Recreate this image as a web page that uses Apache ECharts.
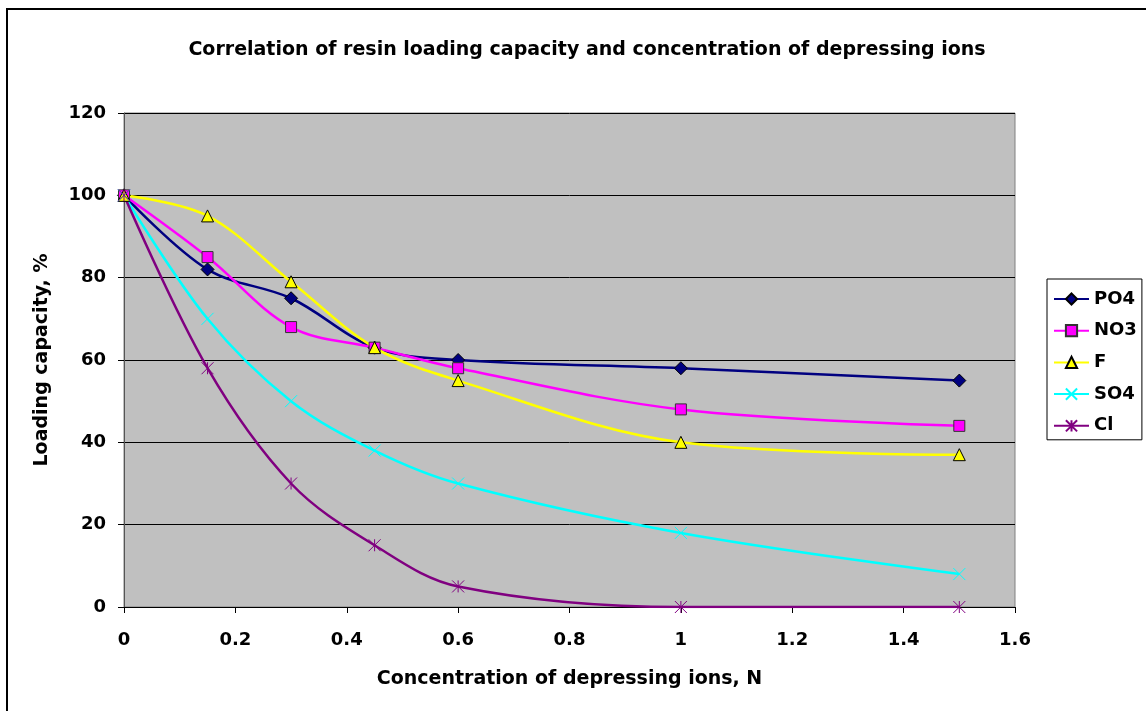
<!DOCTYPE html>
<html lang="en">
<head>
  <meta charset="UTF-8">
  <title>Resin loading capacity</title>
  <script src="https://cdn.jsdelivr.net/npm/echarts@6/dist/echarts.min.js"></script>
  <style>
    body { margin: 0; background: white; }
    #chart { width: 1146px; height: 711px; }
  </style>
</head>
<body>
<div id="chart"></div>
<script>
  // concentration of depressing ions, N
  const conc = [0, 0.15, 0.3, 0.45, 0.6, 1, 1.5];
  // loading capacity, %
  const po4 = [100, 82, 75, 63, 60, 58, 55];
  const no3 = [100, 85, 68, 63, 58, 48, 44];
  const fl  = [100, 95, 79, 63, 55, 40, 37];
  const so4 = [100, 70, 50, 38, 30, 18, 8];
  const cl  = [100, 58, 30, 15, 5, 0, 0];

  const FONT = "DejaVu Sans, sans-serif";
  const pair = ys => conc.map((x, i) => [x, ys[i]]);
  const bold = size => ({ fontFamily: FONT, fontSize: size, fontWeight: "bold", color: "#000" });

  function makeSeries(name, ys, color, symbol, size, fill, border) {
    return {
      name: name,
      type: "line",
      data: pair(ys),
      smooth: 0.35,
      symbol: symbol,
      symbolSize: size,
      lineStyle: { color: color, width: 2.5 },
      itemStyle: { color: fill, borderColor: border, borderWidth: 1 },
      emphasis: { disabled: true }
    };
  }

  const chart = echarts.init(document.getElementById("chart"));
  chart.setOption({
    animation: false,
    backgroundColor: "#fff",
    textStyle: { fontFamily: FONT },
    graphic: [{
      type: "rect",
      shape: { x: 7, y: 9, width: 1200, height: 800 },
      style: { fill: "none", stroke: "#000", lineWidth: 2 },
      silent: true
    }],
    title: {
      text: "Correlation of resin loading capacity and concentration of depressing ions",
      left: 582, top: 36, textAlign: "center",
      textStyle: bold(19)
    },
    legend: {
      orient: "vertical",
      left: 1047, top: 279,
      padding: [11, 5, 5, 6],
      itemGap: 13.7,
      itemWidth: 35, itemHeight: 14,
      borderColor: "#000", borderWidth: 1,
      backgroundColor: "#fff",
      textStyle: Object.assign(bold(18), { lineHeight: 18 }),
      data: ["PO4", "NO3", "F", "SO4", "Cl"]
    },
    grid: {
      left: 124, top: 113, right: 131, bottom: 104,
      show: true, backgroundColor: "#C0C0C0", borderColor: "#808080", borderWidth: 1
    },
    xAxis: {
      type: "value", min: 0, max: 1.6, interval: 0.2,
      name: "Concentration of depressing ions, N",
      nameLocation: "middle", nameGap: 63,
      nameTextStyle: bold(19),
      axisLine: { lineStyle: { color: "#000", width: 1 } },
      axisTick: { show: true, length: 6, lineStyle: { color: "#000" } },
      axisLabel: Object.assign(bold(18), { margin: 24 }),
      splitLine: { show: false }
    },
    yAxis: {
      type: "value", min: 0, max: 120, interval: 20,
      name: "Loading capacity, %",
      nameLocation: "middle", nameGap: 72,
      nameTextStyle: bold(19),
      axisLine: { show: true, lineStyle: { color: "#555", width: 1 } },
      axisTick: { show: true, length: 6, lineStyle: { color: "#000" } },
      axisLabel: Object.assign(bold(18), { margin: 18 }),
      splitLine: { show: true, lineStyle: { color: "#000", width: 1 } }
    },
    series: [
      makeSeries("PO4", po4, "#000080", "diamond", 13, "#000080", "#000"),
      makeSeries("NO3", no3, "#FF00FF", "rect", 11, "#FF00FF", "#333"),
      makeSeries("F", fl, "#FFFF00", "triangle", 12, "#FFFF00", "#000"),
      makeSeries("SO4", so4, "#00FFFF", "path://M0,0L10,10M10,0L0,10", 12, "none", "#00FFFF"),
      makeSeries("Cl", cl, "#800080", "path://M0,0L10,10M10,0L0,10M5,0L5,10", 12, "none", "#800080")
    ]
  });
</script>
</body>
</html>
